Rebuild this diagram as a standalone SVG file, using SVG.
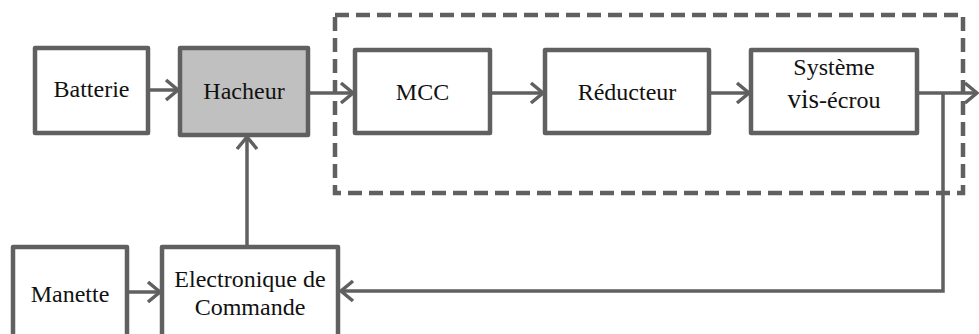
<svg xmlns="http://www.w3.org/2000/svg" width="979" height="334" viewBox="0 0 979 334">
<style>
.box{fill:#fff;stroke:#606060;stroke-width:4.5;stroke-linejoin:round}
.grey{fill:#c0c0c0}
.lbl{font-family:"Liberation Serif","Times New Roman",serif;font-size:24px;fill:#111;text-anchor:middle}
.ln{fill:none;stroke:#606060;stroke-width:3.5}
.dash{fill:none;stroke:#606060;stroke-width:4.5;stroke-dasharray:14 7}
</style>
<defs>
<marker id="ah" markerUnits="userSpaceOnUse" markerWidth="20" markerHeight="24" refX="14" refY="11" orient="auto" overflow="visible">
<path d="M2,1 L14,11 L2,21" fill="none" stroke="#606060" stroke-width="3.5" stroke-linejoin="miter"/>
</marker>
</defs>
<rect class="dash" x="335" y="15" width="628" height="178"/>
<g id="connectors">
<line class="ln" x1="148" y1="90" x2="178" y2="90" marker-end="url(#ah)"/>
<line class="ln" x1="308" y1="93" x2="353" y2="93" marker-end="url(#ah)"/>
<line class="ln" x1="490" y1="93" x2="543" y2="93" marker-end="url(#ah)"/>
<line class="ln" x1="709" y1="93" x2="749" y2="93" marker-end="url(#ah)"/>
<line class="ln" x1="917" y1="93" x2="977" y2="93" marker-end="url(#ah)"/>
<polyline class="ln" points="943,93 943,291 341,291" marker-end="url(#ah)"/>
<line class="ln" x1="247" y1="247" x2="247" y2="137" marker-end="url(#ah)"/>
<line class="ln" x1="127" y1="292" x2="160" y2="292" marker-end="url(#ah)"/>
</g>
<g id="batterie"><rect class="box" x="35" y="48" width="113" height="85"/><text class="lbl" x="91.5" y="97">Batterie</text></g>
<g id="hacheur"><rect class="box grey" x="180" y="48" width="128" height="87"/><text class="lbl" x="244" y="99">Hacheur</text></g>
<g id="mcc"><rect class="box" x="355" y="50" width="135" height="83"/><text class="lbl" x="422.5" y="100">MCC</text></g>
<g id="reducteur"><rect class="box" x="545" y="50" width="164" height="83"/><text class="lbl" x="627" y="100">Réducteur</text></g>
<g id="systeme"><rect class="box" x="751" y="50" width="166" height="83"/><text class="lbl" x="834" y="75">Système</text><text class="lbl" x="834" y="108"><tspan font-size="27">vis</tspan>-écrou</text></g>
<g id="manette"><rect class="box" x="13" y="247" width="114" height="100"/><text class="lbl" x="70" y="302">Manette</text></g>
<g id="electronique"><rect class="box" x="162" y="247" width="176" height="100"/><text class="lbl" x="250" y="287">Electronique de</text><text class="lbl" x="250" y="315">Commande</text></g>
</svg>
